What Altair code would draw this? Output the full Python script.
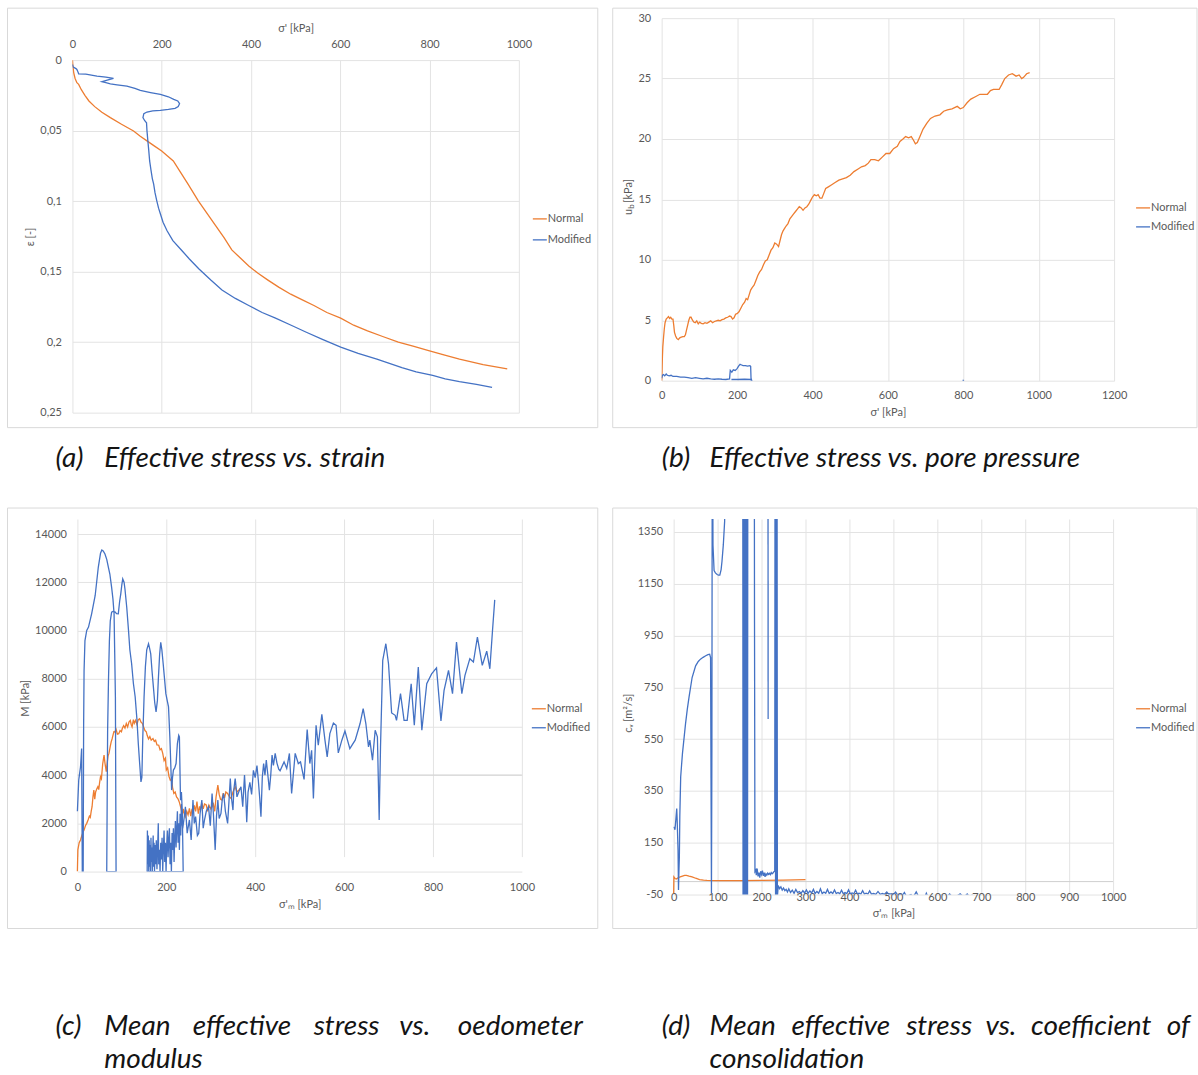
import altair as alt
import pandas as pd

ORANGE = "#ED7D31"
BLUE = "#4472C4"
GRID = "#e3e3e3"
FRAME = "#d9d9d9"
INK = "#595959"
FONT = "Lato"
SERIES = ["Normal", "Modified"]

# ---------------- (a) effective stress [kPa] vs strain [-] ----------------
A_NORMAL = [(0, 0), (1, 0.004), (3, 0.009), (6, 0.013), (10, 0.016), (14, 0.0172), (20, 0.021),
            (28, 0.025), (37, 0.029), (50, 0.033), (66, 0.037), (85, 0.0408), (110, 0.0455),
            (137, 0.0503), (152, 0.054), (167, 0.0573), (184, 0.061), (200, 0.0644), (213, 0.068),
            (226, 0.0715), (243, 0.080), (259, 0.088), (282, 0.0998), (300, 0.108), (320, 0.117),
            (340, 0.126), (357, 0.1346), (375, 0.140), (395, 0.146), (415, 0.151), (438, 0.156),
            (462, 0.161), (489, 0.166), (515, 0.170), (541, 0.174), (570, 0.179), (601, 0.183),
            (630, 0.188), (661, 0.192), (695, 0.196), (730, 0.200), (765, 0.203), (798, 0.206),
            (832, 0.209), (867, 0.212), (920, 0.216), (974, 0.219)]
A_MODIFIED = [(0, 0.003), (2, 0.005), (8, 0.006), (10, 0.0066), (12, 0.008), (14, 0.0097), (30, 0.010),
              (55, 0.0113), (75, 0.012), (92, 0.013), (80, 0.014), (66, 0.0153), (75, 0.016),
              (85, 0.0168), (100, 0.0175), (122, 0.0184), (140, 0.020), (152, 0.0215), (175, 0.023),
              (197, 0.0243), (215, 0.026), (227, 0.0278), (236, 0.029), (240, 0.0309), (237, 0.033),
              (230, 0.0342), (215, 0.035), (197, 0.0356), (180, 0.036), (167, 0.0368), (160, 0.038),
              (158, 0.0408), (162, 0.043), (166, 0.0444), (167, 0.050), (169, 0.0573), (171, 0.064),
              (173, 0.0715), (176, 0.078), (179, 0.084), (182, 0.088), (185, 0.094), (189, 0.0998),
              (193, 0.105), (197, 0.109), (203, 0.115), (212, 0.121), (225, 0.128), (245, 0.135),
              (262, 0.141), (283, 0.148), (310, 0.156), (335, 0.163), (365, 0.169), (395, 0.174),
              (425, 0.179), (455, 0.183), (490, 0.188), (524, 0.193), (560, 0.198), (601, 0.2035),
              (640, 0.208), (682, 0.212), (710, 0.215), (738, 0.218), (770, 0.221), (807, 0.2236),
              (835, 0.226), (867, 0.228), (905, 0.230), (940, 0.232)]

# ---------------- (b) effective stress [kPa] vs pore pressure [kPa] ----------------
B_NORMAL = [(0, 0), (1, 0.8), (2, 2.0), (3, 2.8), (5, 3.6), (7, 4.3), (9, 4.8), (12, 5.1), (15, 5.2),
            (18, 5.3), (21, 5.15), (24, 5.25), (27, 5.1), (30, 5.1), (32, 4.6), (34, 4.0), (37, 3.7),
            (40, 3.5), (44, 3.4), (48, 3.55), (52, 3.6), (56, 3.65), (60, 3.65), (63, 3.8), (66, 4.2),
            (69, 4.6), (72, 5.0), (75, 5.25), (78, 5.25), (81, 5.05), (85, 4.85), (89, 4.8), (93, 4.95),
            (97, 4.7), (101, 4.85), (105, 4.75), (110, 4.7), (115, 4.8), (120, 4.75), (125, 4.85),
            (130, 4.95), (135, 4.8), (140, 4.9), (145, 4.95), (150, 5.0), (155, 4.95), (160, 5.05),
            (165, 5.1), (170, 5.2), (175, 5.25), (180, 5.35), (184, 5.3), (188, 5.1), (192, 5.2),
            (196, 5.5), (200, 5.55), (205, 5.7), (210, 6.0), (215, 6.3), (220, 6.5), (224, 6.8),
            (228, 6.7), (232, 7.1), (236, 7.5), (240, 7.7), (245, 7.9), (250, 8.3), (255, 8.7),
            (260, 9.0), (265, 9.2), (270, 9.6), (275, 9.9), (280, 10.0), (285, 10.4), (290, 10.8),
            (295, 11.0), (300, 11.4), (305, 11.3), (310, 11.1), (314, 11.6), (318, 12.1), (322, 12.4),
            (326, 12.6), (330, 12.8), (335, 13.0), (340, 13.4), (345, 13.6), (350, 13.8), (355, 14.0),
            (360, 14.2), (365, 14.4), (370, 14.3), (375, 14.1), (380, 14.3), (385, 14.4), (390, 14.6),
            (395, 14.9), (400, 15.2), (405, 15.4), (410, 15.3), (415, 15.4), (420, 15.1), (425, 15.1),
            (430, 15.5), (435, 15.9), (440, 16.0), (450, 16.2), (460, 16.4), (470, 16.6), (480, 16.7),
            (490, 16.8), (500, 17.0), (510, 17.3), (520, 17.5), (530, 17.7), (540, 17.8), (548, 18.0),
            (555, 18.3), (565, 18.3), (575, 18.2), (585, 18.5), (595, 18.8), (605, 18.8), (615, 19.2),
            (625, 19.4), (632, 19.8), (640, 20.0), (647, 20.2), (655, 20.1), (662, 20.2), (668, 19.9),
            (673, 19.6), (678, 19.7), (685, 20.2), (693, 20.8), (703, 21.3), (713, 21.7), (725, 21.9),
            (738, 22.0), (748, 22.3), (758, 22.4), (770, 22.5), (784, 22.7), (792, 22.5), (800, 22.6),
            (810, 23.0), (820, 23.3), (832, 23.5), (844, 23.7), (855, 23.7), (864, 23.7), (872, 24.0),
            (880, 24.1), (888, 24.1), (895, 24.1), (902, 24.5), (910, 25.0), (920, 25.3), (930, 25.4),
            (940, 25.2), (948, 25.3), (955, 25.0), (960, 25.1), (968, 25.4), (976, 25.5)]
B_MODIFIED = [(0, 0.2), (2, 0.45), (5, 0.5), (8, 0.4), (12, 0.55), (15, 0.45), (20, 0.4), (25, 0.45),
              (30, 0.35), (40, 0.35), (50, 0.3), (60, 0.3), (70, 0.25), (80, 0.2), (90, 0.25),
              (100, 0.2), (110, 0.15), (120, 0.2), (130, 0.15), (140, 0.12), (150, 0.15), (160, 0.12),
              (170, 0.1), (180, 0.15), (182, 0.85), (186, 0.7), (190, 0.9), (195, 0.85), (200, 1.0),
              (204, 1.2), (208, 1.35), (212, 1.3), (216, 1.25), (222, 1.25), (228, 1.2), (234, 1.25),
              (236, 1.2), (237, 0.2), (239, 0.0), (235, 0.1), (220, 0.12), (200, 0.1), (185, 0.1)]
B_MODIFIED_TAIL = [(798, 0.02), (802, 0.02)]

# ---------------- (c) mean effective stress [kPa] vs oedometer modulus [kPa] ----------------
C_NORMAL = [(0, 0), (1, 900), (4, 1200), (7, 1310), (10, 1500), (13, 1650), (15, 1720), (18, 1900),
            (21, 2000), (24, 2140), (27, 2300), (29, 2250), (31, 2500), (33, 2690), (35, 3100),
            (37, 3380), (39, 3000), (41, 3300), (44, 3450), (46, 3520), (48, 3400), (50, 3700),
            (52, 3930), (54, 3850), (57, 4480), (60, 4830), (62, 4500), (65, 4140), (67, 4500),
            (69, 4800), (71, 4900), (74, 5200), (76, 5380), (78, 5500), (80, 5650), (82, 5800),
            (84, 5790), (87, 5900), (90, 5700), (93, 5720), (96, 5850), (99, 5800), (101, 5930),
            (104, 6050), (107, 5950), (110, 6140), (113, 6000), (116, 6200), (119, 6270), (121, 6100),
            (123, 6000), (126, 6300), (128, 6150), (131, 6270), (134, 6100), (137, 6300), (140, 6340),
            (143, 6200), (146, 6150), (149, 6000), (152, 5850), (155, 5800), (157, 5650), (160, 5500),
            (163, 5600), (166, 5450), (170, 5520), (173, 5400), (176, 5450), (179, 5250), (183, 5240),
            (186, 5050), (189, 5100), (192, 4900), (195, 4600), (198, 4700), (200, 4210), (203, 4300),
            (206, 3950), (209, 3790), (212, 3850), (214, 3500), (217, 3240), (220, 3300), (223, 3100),
            (226, 3030), (229, 2900), (232, 2700), (234, 2550), (236, 2300), (238, 2600), (240, 2450),
            (243, 2280), (246, 2500), (249, 2350), (252, 2620), (255, 2300), (258, 2600), (260, 2410),
            (263, 2750), (266, 2500), (269, 2900), (272, 2400), (275, 2700), (277, 2550), (280, 2850),
            (283, 2600), (286, 2800), (290, 2760), (293, 2500), (296, 2750), (300, 2600), (303, 2690),
            (306, 2800), (309, 2500), (312, 3100), (316, 3590), (319, 3200), (322, 3000), (325, 2970),
            (328, 3250), (331, 3050), (334, 3300), (338, 3240), (342, 3100), (346, 3030), (350, 3300),
            (355, 3520), (359, 3300), (363, 3380), (366, 3450)]
C_MODIFIED_PEAKS = [(0, 2500), (3, 3800), (7, 4340), (9.5, 5100), (11, 0), (13, 0), (14, 6000),
                    (15, 8340), (17, 9580), (21, 10000), (25, 10140), (32, 10690), (40, 11450),
                    (47, 12620), (52, 13200), (55, 13340), (58, 13300), (62, 13170), (66, 12950),
                    (70, 12600), (73, 12340), (77, 11790), (80, 11300), (82.5, 10690), (84, 9000),
                    (85.5, 7240), (87, 0), (66, 0), (67, 3000), (68, 5860), (70, 8000), (72, 9580),
                    (74, 10400), (77, 10760), (81, 10800), (85, 10760), (88, 10700), (92, 10690),
                    (95, 11200), (97.5, 11510), (100, 11900), (102, 12140), (105, 12000), (107, 11720),
                    (111, 10960), (115, 10000), (118, 9200), (122, 8620), (126, 7800), (130, 7240),
                    (134, 6300), (137, 5310), (140, 4500), (143, 3720), (145, 3900), (147, 5500),
                    (150, 7240), (153, 8500), (156, 9200), (160, 9450), (162, 9300), (165, 9030),
                    (168, 8300), (171, 7650), (174, 7000), (177, 6620), (180, 7100), (182, 7930),
                    (185, 9000), (187.5, 9510), (190, 9200), (193, 8620), (196, 8000), (199, 7380),
                    (202, 7100), (205, 6830), (208, 5585), (210, 4500), (212, 3380), (214, 3900),
                    (216, 4210), (219, 4300), (222, 4480), (225, 5310), (228, 5650), (229.5, 5585),
                    (231, 4000), (232, 2960), (234, 3300), (236, 2500), (238, 0), (157, 0)]
C_MODIFIED_LOW = [(157.5, 1700), (158.5, 300), (159.5, 1500), (160.5, 0), (161.5, 1300), (162.5, 200),
                  (163.5, 1100), (164.5, 0), (165.5, 1400), (166.5, 400), (167.5, 1000), (168.5, 0),
                  (169.5, 900), (170.5, 1500), (171.5, 200), (172.5, 1200), (173.5, 0), (175, 1100),
                  (176, 300), (177.5, 1300), (179, 100), (180.5, 1000), (182, 2000), (183, 300),
                  (184.5, 900), (186, 0), (187.5, 1200), (189, 500), (190.5, 1400), (192, 0),
                  (193.5, 1000), (195, 1700), (196.5, 400), (198, 1200), (199.5, 0), (201, 1100),
                  (202.5, 1700), (204, 600), (205.5, 1300), (207, 1800), (208.5, 300), (210, 1200),
                  (211.5, 0), (213, 1600), (214.5, 900), (216, 1800), (217.5, 400), (219, 1400),
                  (220.5, 2100), (222, 1000), (223.5, 1800), (225, 2500), (226.5, 1200), (228, 2000),
                  (229.5, 900), (231, 2400), (232.5, 1500), (234, 2800), (235.5, 2000), (237, 1790)]
C_MODIFIED_RISE = [(240, 2200), (243, 2690), (247, 1590), (252, 2140), (256, 1310), (260, 2970),
                   (263, 2000), (266, 2280), (270, 1500), (273, 1590), (276, 2400), (280, 2970),
                   (283, 1800), (286, 2140), (290, 2500), (295, 2690), (299, 1900), (303, 3240),
                   (306, 2400), (310, 900), (313, 2300), (316, 2970), (319, 2200), (323, 2410),
                   (326, 3000), (329, 3240), (333, 2500), (338, 2000), (341, 2900), (344, 3860),
                   (347, 3000), (350, 2550), (352, 3400), (355, 3860), (357, 3500), (359, 3100),
                   (363, 3300), (368, 3520), (372, 2690), (376, 4000), (379, 3000), (381, 2050),
                   (384, 3300), (388, 3700), (392, 3200), (396, 4200), (400, 3900), (404, 4400),
                   (407, 3800), (410, 3100), (413, 2280), (416, 3900), (419, 4480), (422, 4000),
                   (425, 4620), (428, 4100), (432, 3380), (435, 4000), (438, 4830), (441, 4400),
                   (445, 4900), (449, 4500), (453, 4250)]
C_MODIFIED_HIGH = [(456, 4180), (465, 4550), (471, 4275), (477, 4900), (482, 3240), (490, 4900),
                   (497, 4480), (502, 4550), (510, 3820), (517, 5890), (523, 4480), (527, 5030),
                   (531, 3030), (537, 6070), (542, 5240), (550, 6520), (557, 5450), (562, 4760),
                   (568, 5720), (576, 6160), (582, 6070), (587, 4920), (595, 5450), (602, 5830),
                   (613, 5100), (625, 5450), (636, 6140), (643, 6760), (649, 6140), (655, 5170),
                   (658, 5450), (664, 4620), (670, 5860), (675, 5590), (679, 2140), (682, 5170),
                   (687, 8760), (694, 9450), (700, 8620), (707, 6580), (715, 6480), (718, 6270),
                   (727, 7380), (735, 6270), (742, 6270), (751, 7790), (758, 6070), (767, 8480),
                   (775, 5860), (786, 7790), (797, 8200), (808, 8450), (818, 6250), (825, 7520),
                   (835, 8340), (844, 7380), (853, 9520), (865, 7380), (872, 8140), (883, 8830),
                   (891, 8690), (900, 9720), (911, 8550), (921, 9140), (928, 8410), (934, 10000),
                   (939, 11270)]

# ---------------- (d) mean effective stress [kPa] vs coefficient of consolidation [m2/s] ----------------
D_NORMAL = [(0, -45), (0.5, 18), (3, 12), (6, 10), (10, 15), (15, 18), (20, 21), (25, 24), (29, 24),
            (35, 21), (42, 18), (50, 13), (59, 8), (68, 6), (76, 5), (100, 4), (150, 4), (200, 5),
            (250, 6), (300, 8)]
D_MODIFIED = [(1, 212), (3, 200), (5, 240), (7, 282), (8, 237), (10, 120), (11, -32), (12, 40), (13, 96),
              (14, 250), (16, 404), (18, 450), (20, 494), (24, 560), (27, 609), (31, 665), (35, 712),
              (42, 788), (50, 833), (56, 850), (61, 859), (67, 866), (73, 872), (78, 876), (82, 878),
              (84, 865), (85, 400), (86, -45), (87, 500), (88, 2000), (89.5, 1300), (92, 1201),
              (95, 1192), (99, 1186), (102, 1183), (105, 1183), (108, 1205), (110, 1237), (113, 1300),
              (116, 1391), (118, 1800), (157, 2500), (158, -400), (159, 2500), (160.5, -400),
              (161.5, 2500), (163, -400), (164, 2500), (165.5, -400), (166.5, 2500), (168, -400),
              (169, 2500), (183, 2500), (184, 1000), (185, 39), (187, 45), (188, 25), (190, 50),
              (192, 20), (194, 35), (196, 15), (198, 40), (200, 28), (202, 42), (204, 22), (206, 35),
              (208, 18), (210, 30), (212, 25), (214, 33), (216, 28), (218, 32), (220, 27), (222, 35),
              (224, 30), (226, 33), (228, 38), (230, 40), (231, 2500), (232, -400), (233, 2500),
              (234, -400), (235, 2500), (236, -60), (238, -15), (241, -27), (244, -20), (247, -33),
              (250, -25), (253, -35), (256, -30), (259, -40), (262, -28), (266, -42), (270, -33),
              (274, -45), (278, -30), (282, -42), (286, -38), (290, -45), (294, -35), (298, -44),
              (302, -32), (306, -45), (310, -36), (314, -44), (318, -30), (322, -46), (326, -38),
              (330, -45), (334, -28), (338, -46), (342, -40), (346, -45), (350, -30), (354, -46),
              (358, -40), (362, -46), (366, -32), (370, -46), (374, -42), (378, -47), (382, -33),
              (386, -47), (390, -42), (394, -46), (398, -32), (402, -47), (406, -44), (410, -47),
              (414, -33), (418, -47), (422, -45), (426, -48), (430, -35), (434, -48), (438, -45),
              (442, -48), (446, -36), (450, -48), (455, -46), (460, -49), (465, -38), (470, -49),
              (475, -46), (480, -49), (485, -40), (490, -50), (495, -47), (500, -50), (505, -40),
              (510, -52), (515, -48), (520, -55), (525, -42), (530, -58), (540, -50), (545, -60),
              (552, -40), (558, -60), (565, -55), (570, -65), (575, -45), (580, -65), (590, -58),
              (600, -66), (610, -52), (618, -65), (628, -48), (636, -62), (645, -55), (652, -47),
              (660, -60), (668, -48), (675, -62), (680, -50)]
D_MODIFIED_SPIKE = [(214.5, 2500), (215, 628)]

# axis tick values
A_X_TICKS = [0, 200, 400, 600, 800, 1000]
A_Y_TICKS = [0, 0.05, 0.1, 0.15, 0.2, 0.25]
B_X_TICKS = [0, 200, 400, 600, 800, 1000, 1200]
B_Y_TICKS = [0, 5, 10, 15, 20, 25, 30]
C_X_TICKS = [0, 200, 400, 600, 800, 1000]
C_Y_TICKS = [0, 2000, 4000, 6000, 8000, 10000, 12000, 14000]
D_X_TICKS = [0, 100, 200, 300, 400, 500, 600, 700, 800, 900, 1000]
D_Y_TICKS = [-50, 150, 350, 550, 750, 950, 1150, 1350]

one = pd.DataFrame({"k": [0]})
CAPTION = 28


def to_frame(*parts):
    rows = []
    for seg, pts in enumerate(parts):
        for x, y in pts:
            rows.append({"x": x, "y": y, "seg": seg, "i": len(rows)})
    return pd.DataFrame(rows)


def axis(orient, values, title, tx, ty, pad, offset=0, fmt="d", **kw):
    extra = dict(kw)
    if fmt:
        extra["format"] = fmt
    return alt.Axis(orient=orient, values=values, tickCount=len(values), title=title,
                    titleX=tx, titleY=ty, titleAlign="center", titleBaseline="middle",
                    labelPadding=pad, labelBaseline="middle", labelFlush=False,
                    labelOverlap=False, offset=offset, domain=False, ticks=False, tickSize=0,
                    grid=True, gridColor=GRID, **extra)


class Panel:
    """Collects the layers of one panel; decorations are placed in page pixels."""

    def __init__(self, vx, vy, w, h):
        self.vx, self.vy, self.w, self.h = vx, vy, w, h
        self.layers = []

    def lines(self, series, xscale, yscale, xaxis, yaxis):
        for df, color in series:
            self.layers.append(alt.Chart(df).mark_line(color=color, strokeWidth=1.3, clip=True).encode(
                x=alt.X("x:Q", scale=xscale, axis=xaxis),
                y=alt.Y("y:Q", scale=yscale, axis=yaxis),
                detail="seg:N", order="i:Q"))

    def frame(self, x0, y0, x1, y1, ybound):
        self.layers.insert(0, alt.Chart(one).mark_rect(fillOpacity=0, stroke=FRAME, strokeWidth=1).encode(
            x=alt.value(x0 - self.vx), x2=alt.value(x1 - self.vx),
            y=alt.value(y0 - self.vy), y2=alt.value(y1 - self.vy)))
        self.layers.insert(0, alt.Chart(one).mark_rect(opacity=0, strokeWidth=0).encode(
            x=alt.value(x0 - self.vx), x2=alt.value(x1 - self.vx),
            y=alt.value(y0 - self.vy), y2=alt.value(ybound - self.vy)))

    def baseline(self, value, yscale, x0, x1, color="#cfcfcf"):
        self.layers.append(alt.Chart(one).mark_rule(color=color, strokeWidth=1).encode(
            x=alt.value(x0), x2=alt.value(x1), y=alt.Y(datum=value, scale=yscale)))

    def legend(self, x, y1, y2):
        for name, color, yy in [(SERIES[0], ORANGE, y1), (SERIES[1], BLUE, y2)]:
            self.layers.append(alt.Chart(one).mark_rule(color=color, strokeWidth=1.3).encode(
                x=alt.value(x - self.vx), x2=alt.value(x + 14 - self.vx), y=alt.value(yy - self.vy)))
            self.text(name, x + 15, yy)

    def text(self, txt, x, y, size=11, align="left", angle=0, italic=False, color=INK):
        props = dict(align=align, baseline="middle", font=FONT, fontSize=size, color=color)
        if angle:
            props["angle"] = angle
        if italic:
            props["fontStyle"] = "italic"
        self.layers.append(alt.Chart(one).mark_text(**props).encode(
            x=alt.value(x - self.vx), y=alt.value(y - self.vy), text=alt.value(txt)))

    def caption(self, items, y):
        for txt, x, align in items:
            self.text(txt, x, y, size=CAPTION, align=align, italic=True, color="#141414")

    def chart(self):
        return alt.layer(*self.layers).properties(width=self.w, height=self.h)


# ---- panel (a): view from (72, 17), plot area 72..519 x 59..412
pa = Panel(72, 17, 447, 395)
a_x = alt.Scale(domain=[0, 1000], range=[0, 447], nice=False)
a_y = alt.Scale(domain=[0, 0.25], range=[42, 395], nice=False)
a_xaxis = axis("top", A_X_TICKS, "σ' [kPa]", 223.5, -32, 16, offset=-42)
a_yaxis = axis("left", A_Y_TICKS, "ε [-]", -42, 218.5, 11, fmt=None,
               labelExpr="replace(format(datum.value, '.2~f'), '.', ',')")
pa.lines([(to_frame(A_NORMAL), ORANGE), (to_frame(A_MODIFIED), BLUE)], a_x, a_y, a_xaxis, a_yaxis)
pa.frame(7, 7, 598, 427, 490)
pa.legend(533, 218, 239)
pa.caption([("(a)", 55, "left"), ("Effective stress vs. strain", 104, "left")], 458)

# ---- panel (b): view = plot area 661..1114 x 17..380
pb = Panel(661, 17, 453, 363)
b_x = alt.Scale(domain=[0, 1200], nice=False)
b_y = alt.Scale(domain=[0, 30], nice=False)
b_xaxis = axis("bottom", B_X_TICKS, "σ' [kPa]", 226.5, 32, 15)
b_yaxis = axis("left", B_Y_TICKS, None, -33, 181, 11)
pb.lines([(to_frame(B_NORMAL), ORANGE), (to_frame(B_MODIFIED, B_MODIFIED_TAIL), BLUE)],
         b_x, b_y, b_xaxis, b_yaxis)
pb.frame(612, 7, 1197, 427, 490)
pb.text("u", 628, 211, align="center", angle=270)
pb.text("b", 631.5, 205.5, size=8, align="center", angle=270)
pb.text("[kPa]", 628, 190, align="center", angle=270)
pb.legend(1136, 207, 226)
pb.caption([("(b)", 661, "left"), ("Effective stress vs. pore pressure", 709, "left")], 458)

# ---- panel (c): view from (72, 518), plot area 77..522 x 533..871
pc = Panel(72, 518, 450, 353)
c_x = alt.Scale(domain=[0, 1000], range=[5, 450], nice=False)
c_y = alt.Scale(domain=[0, 14000], range=[353, 15], nice=False)
c_xaxis = axis("bottom", C_X_TICKS, "σ'ₘ [kPa]", 227.5, 33, 16)
c_yaxis = axis("left", C_Y_TICKS, "M [kPa]", -52, 179, 11, offset=-5)
pc.baseline(4000, c_y, 5, 450, color="#d2d2d2")
pc.lines([(to_frame(C_NORMAL), ORANGE),
          (to_frame(C_MODIFIED_PEAKS + C_MODIFIED_LOW + C_MODIFIED_RISE + C_MODIFIED_HIGH), BLUE)],
         c_x, c_y, c_xaxis, c_yaxis)
pc.frame(7, 507, 598, 928, 928)
pc.legend(532, 708, 727)
pc.caption([("(c)", 55, "left"), ("Mean", 104, "left"), ("effective", 241.75, "center"),
            ("stress", 346.5, "center"), ("vs.", 414.75, "center"), ("oedometer", 583, "right")], 1027)
pc.caption([("modulus", 104, "left")], 1060)

# ---- panel (d): view from (661, 518), plot area 673..1113 x 518..894
pd_ = Panel(661, 518, 452, 376)
d_x = alt.Scale(domain=[0, 1000], range=[12, 452], nice=False)
d_y = alt.Scale(domain=[-50, 1400], range=[376, 0], nice=False)
d_xaxis = axis("bottom", D_X_TICKS, "σ'ₘ [kPa]", 232, 19, 3)
d_yaxis = axis("left", D_Y_TICKS, "cᵥ [m²/s]", -45, 194, 11, offset=-12, fmt=None,
               labelExpr="'' + datum.value")
pd_.baseline(0, d_y, 12, 452)
pd_.lines([(to_frame(D_NORMAL), ORANGE), (to_frame(D_MODIFIED, D_MODIFIED_SPIKE), BLUE)],
          d_x, d_y, d_xaxis, d_yaxis)
pd_.frame(612, 507, 1197, 928, 928)
pd_.legend(1136, 708, 727)
pd_.caption([("(d)", 661, "left"), ("Mean", 709, "left"), ("effective", 840.4, "center"),
             ("stress", 938.8, "center"), ("vs.", 1000.7, "center"), ("coefficient", 1091.1, "center"),
             ("of", 1190, "right")], 1027)
pd_.caption([("consolidation", 709, "left")], 1060)

chart = alt.vconcat(
    alt.hconcat(pa.chart(), pb.chart(), spacing=13),
    alt.hconcat(pc.chart(), pd_.chart(), spacing=13),
    spacing=16.5,
).properties(
    padding={"left": 6.5, "top": 6.5, "right": 0, "bottom": 0},
    background="white",
).configure_view(strokeWidth=0).configure_axis(
    labelFont=FONT, labelFontSize=11, labelColor=INK,
    titleFont=FONT, titleFontSize=11, titleColor=INK, titleFontWeight="normal",
)

chart.save("out.html", embed_options={"renderer": "svg", "actions": False})
